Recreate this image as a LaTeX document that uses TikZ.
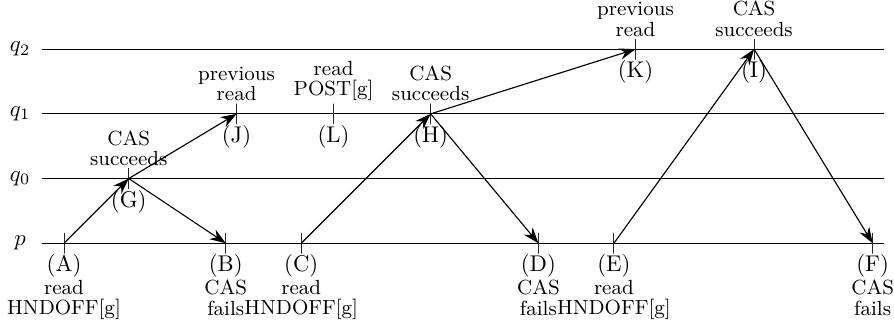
\documentclass[tikz,border=0pt]{standalone}
\usepackage{tikz}
\usetikzlibrary{arrows.meta}
\tikzset{
  sd/proc/.style={line width=0.5pt, draw=black},
  sd/lbl/.style={font=\normalsize, inner sep=0pt},
  sd/tick/.style={rectangle, draw=black!85, minimum width=0pt,
    minimum height=3.2mm, inner sep=0pt, line width=0.45pt},
  sd/id/.style={font=\normalsize, anchor=base, inner sep=0pt},
  sd/up/.style={font=\small, align=center, anchor=south, inner sep=0pt},
  sd/down/.style={font=\small, align=center, anchor=north, inner sep=0pt},
  sd/msg/.style={-{Stealth[length=7pt,width=5pt]}, line width=0.5pt,
    draw=black}
}

\begin{document}
\begin{tikzpicture}[x=1cm, y=1cm]
  \useasboundingbox (-0.99,-1.22) rectangle (12.83,3.76);

  % processes
  \foreach \y/\n in {0/p, 1/q_0, 2/q_1, 3/q_2} {
    \node[sd/lbl] at (-0.68, \y) (lbl\y) {$\n$};
    \coordinate (st\y) at (-0.34, \y);
    \coordinate (en\y) at (12.67, \y);
    \draw[sd/proc] (st\y) -- (en\y);
  }

  % events
  \foreach \n/\x/\y in {A/0/0, G/1/1, B/2.5/0, J/2.667/2, C/3.667/0,
      L/4.167/2, H/5.667/2, D/7.333/0, E/8.5/0, K/8.833/3, I/10.667/3,
      F/12.5/0} {
    \node[sd/tick] at (\x, \y) (\n) {};
    \node[sd/id] at ([yshift=-4.4mm]\n.center) (\n-id) {(\n)};
  }

  % texts above
  \node[sd/up] at ([yshift=1.9mm]G.center) (G-tx) {CAS\\[-2pt]succeeds};
  \node[sd/up] at ([yshift=1.9mm]J.center) (J-tx) {previous\\[-2pt]read};
  \node[sd/up] at ([yshift=1.9mm]L.center) (L-tx) {read\\[-2pt]POST[g]};
  \node[sd/up] at ([yshift=1.9mm]H.center) (H-tx) {CAS\\[-2pt]succeeds};
  \node[sd/up] at ([yshift=1.9mm]K.center) (K-tx) {previous\\[-2pt]read};
  \node[sd/up] at ([yshift=1.9mm]I.center) (I-tx) {CAS\\[-2pt]succeeds};

  % texts below
  \node[sd/down] at ([yshift=-5.6mm]A.center) (A-tx) {read\\[-2pt]HNDOFF[g]};
  \node[sd/down] at ([yshift=-5.6mm]B.center) (B-tx) {CAS\\[-2pt]fails};
  \node[sd/down] at ([yshift=-5.6mm]C.center) (C-tx) {read\\[-2pt]HNDOFF[g]};
  \node[sd/down] at ([yshift=-5.6mm]D.center) (D-tx) {CAS\\[-2pt]fails};
  \node[sd/down] at ([yshift=-5.6mm]E.center) (E-tx) {read\\[-2pt]HNDOFF[g]};
  \node[sd/down] at ([yshift=-5.6mm]F.center) (F-tx) {CAS\\[-2pt]fails};

  % messages
  \draw[sd/msg] (A.center) -- (G.center);
  \draw[sd/msg] (G.center) -- (B.center);
  \draw[sd/msg] (G.center) -- (J.center);
  \draw[sd/msg] (C.center) -- (H.center);
  \draw[sd/msg] (H.center) -- (D.center);
  \draw[sd/msg] (H.center) -- (K.center);
  \draw[sd/msg] (E.center) -- (I.center);
  \draw[sd/msg] (I.center) -- (F.center);
\end{tikzpicture}
\end{document}
